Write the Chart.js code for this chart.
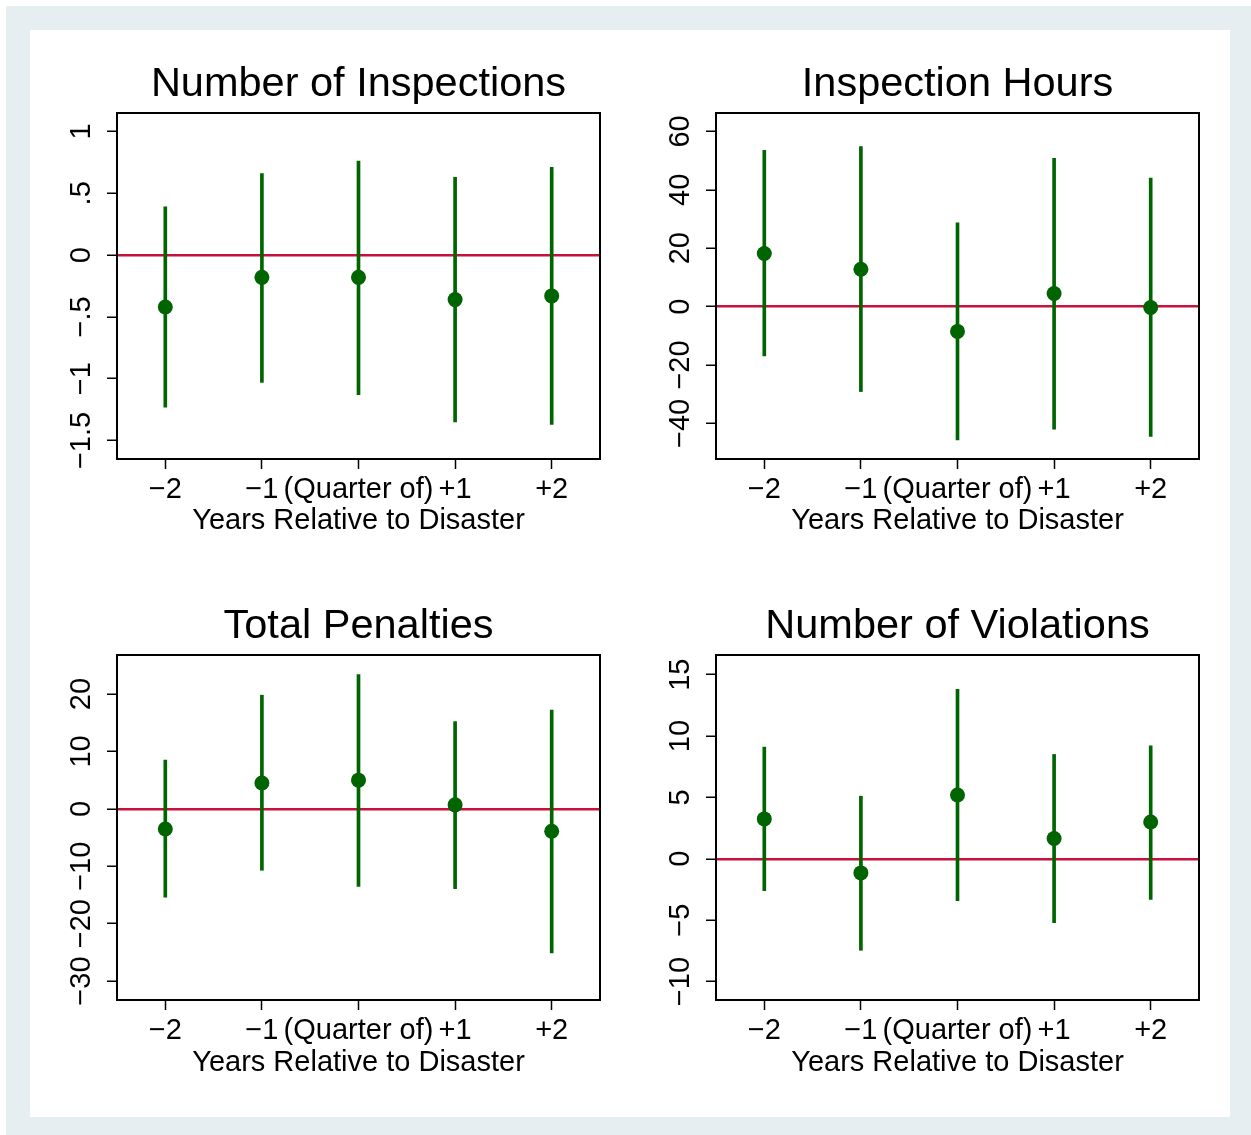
<!DOCTYPE html>
<html>
<head>
<meta charset="utf-8">
<title>Years Relative to Disaster</title>
<script src="https://cdn.jsdelivr.net/npm/chart.js"></script>
<style>
  body { margin: 0; width: 1251px; height: 1135px; background: #fff; position: relative; overflow: hidden; }
  #frame { position: absolute; left: 6px; top: 6px; width: 1245px; height: 1129px; background: #e7eef1; }
  #inner { position: absolute; left: 30px; top: 30px; width: 1200px; height: 1087px; background: #fff; }
  canvas { position: absolute; }
</style>
</head>
<body>
<div id="frame"></div>
<div id="inner"></div>
<canvas id="c1" width="600" height="540" style="left:30px;top:30px"></canvas>
<canvas id="c2" width="600" height="540" style="left:630px;top:30px"></canvas>
<canvas id="c3" width="600" height="540" style="left:30px;top:572px"></canvas>
<canvas id="c4" width="600" height="540" style="left:630px;top:572px"></canvas>

<script>
    // x axis: event time
    const xTicks = [1, 2, 3, 4, 5];
    const xLabels = ['\u22122', '\u22121', '(Quarter of)', '+1', '+2'];
    const xTitle = 'Years Relative to Disaster';

    // Number of Inspections
    const inspEst = [-0.42, -0.18, -0.18, -0.36, -0.33];
    const inspLo  = [-1.23, -1.03, -1.13, -1.35, -1.37];
    const inspHi  = [0.39, 0.66, 0.76, 0.63, 0.71];
    const inspTicks  = [-1.5, -1, -0.5, 0, 0.5, 1];
    const inspLabels = ['\u22121.5', '\u22121', '\u2212.5', '0', '.5', '1'];

    // Inspection Hours
    const hoursEst = [18.2, 12.8, -8.5, 4.5, -0.3];
    const hoursLo  = [-16.9, -29.1, -45.7, -42.0, -44.5];
    const hoursHi  = [53.5, 54.8, 28.7, 50.8, 44.0];
    const hoursTicks  = [-40, -20, 0, 20, 40, 60];
    const hoursLabels = ['\u221240', '\u221220', '0', '20', '40', '60'];

    // Total Penalties
    const penEst = [-3.5, 4.5, 5.0, 0.7, -3.9];
    const penLo  = [-15.4, -10.7, -13.5, -13.9, -25.1];
    const penHi  = [8.5, 19.8, 23.4, 15.2, 17.2];
    const penTicks  = [-30, -20, -10, 0, 10, 20];
    const penLabels = ['\u221230', '\u221220', '\u221210', '0', '10', '20'];

    // Number of Violations
    const violEst = [3.25, -1.15, 5.2, 1.65, 3.0];
    const violLo  = [-2.6, -7.45, -3.4, -5.2, -3.3];
    const violHi  = [9.1, 5.1, 13.8, 8.5, 9.2];
    const violTicks  = [-10, -5, 0, 5, 10, 15];
    const violLabels = ['\u221210', '\u22125', '0', '5', '10', '15'];

    const FONT = '"Liberation Sans", Arial, Helvetica, sans-serif';
    const GREEN = '#006400';
    const RED = '#c8103c';

    // box around the plot region
    const frame = {
        id: 'frame',
        afterDatasetsDraw(chart) {
            const a = chart.chartArea, c = chart.ctx;
            c.save();
            c.strokeStyle = '#000';
            c.lineWidth = 2;
            c.strokeRect(a.left, a.top, a.right - a.left, a.bottom - a.top);
            c.restore();
        }
    };

    // rotated y labels are centred on (axis - 35px)
    function tickPad(labels) {
        const m = document.createElement('canvas').getContext('2d');
        m.font = '29px ' + FONT;
        const widest = Math.max(...labels.map(l => m.measureText(l).width));
        return 25 - widest / 2;
    }

    function makeChart(id, title, est, lo, hi, yTicks, yLabels, yMin, yMax, yWidth, chartRight, chartBottom) {
        return new Chart(document.getElementById(id), {
            type: 'bar',
            data: {
                datasets: [
                    {
                        type: 'scatter',
                        data: xTicks.map((x, i) => ({x: x, y: est[i]})),
                        backgroundColor: GREEN,
                        pointRadius: 7.5,
                        pointBorderWidth: 0,
                        order: 0
                    },
                    {
                        type: 'bar',
                        data: xTicks.map((x, i) => ({x: x, y: [lo[i], hi[i]]})),
                        backgroundColor: GREEN,
                        barThickness: 3,
                        borderWidth: 0,
                        order: 1
                    }
                ]
            },
            options: {
                responsive: false,
                animation: false,
                layout: { padding: { left: 0, right: 600 - chartRight, top: 0, bottom: 0 } },
                plugins: {
                    legend: { display: false },
                    tooltip: { enabled: false },
                    title: { display: false }
                },
                scales: {
                    x: {
                        type: 'linear', position: 'bottom', min: 0.5, max: 5.5, offset: false,
                        afterBuildTicks: s => { s.ticks = xTicks.map(v => ({value: v})); },
                        afterFit: s => { s.height = 540 - chartBottom; },
                        grid: { offset: false, drawOnChartArea: false, tickLength: 10, tickColor: '#000', tickWidth: 1.5 },
                        border: { display: false },
                        ticks: {
                            color: '#000', font: { family: FONT, size: 29 }, padding: 4,
                            maxRotation: 0, autoSkip: false,
                            callback: (v, i) => xLabels[i]
                        },
                        title: {
                            display: true, text: xTitle, color: '#000',
                            font: { family: FONT, size: 29 }, padding: { top: 0, bottom: 32 }
                        }
                    },
                    x2: {
                        type: 'linear', position: 'top', display: true,
                        afterFit: s => { s.height = 83; },
                        grid: { display: false },
                        border: { display: false },
                        ticks: { display: false },
                        title: {
                            display: true, text: title, color: '#000',
                            font: { family: FONT, size: 41.5 }, padding: { top: 30, bottom: 0 }
                        }
                    },
                    y: {
                        type: 'linear', position: 'left', min: yMin, max: yMax,
                        afterBuildTicks: s => { s.ticks = yTicks.map(v => ({value: v})); },
                        afterFit: s => { s.width = yWidth; },
                        grid: {
                            drawOnChartArea: true,
                            color: c => (c.tick && c.tick.value === 0) ? RED : 'rgba(0,0,0,0)',
                            lineWidth: 2.5,
                            tickLength: 10, tickColor: '#000', tickWidth: 1.5
                        },
                        border: { display: false },
                        ticks: {
                            color: '#000', font: { family: FONT, size: 29 },
                            minRotation: 90, maxRotation: 90, crossAlign: 'center',
                            padding: tickPad(yLabels), autoSkip: false,
                            callback: (v, i) => yLabels[i]
                        }
                    }
                }
            },
            plugins: [frame]
        });
    }

    makeChart('c1', 'Number of Inspections', inspEst, inspLo, inspHi, inspTicks, inspLabels, -1.65, 1.15, 87, 570, 429);
    makeChart('c2', 'Inspection Hours', hoursEst, hoursLo, hoursHi, hoursTicks, hoursLabels, -52.2, 66.3, 86, 569, 429);
    makeChart('c3', 'Total Penalties', penEst, penLo, penHi, penTicks, penLabels, -33.3, 26.8, 87, 570, 428);
    makeChart('c4', 'Number of Violations', violEst, violLo, violHi, violTicks, violLabels, -11.5, 16.6, 86, 569, 428);
</script>
</body>
</html>
